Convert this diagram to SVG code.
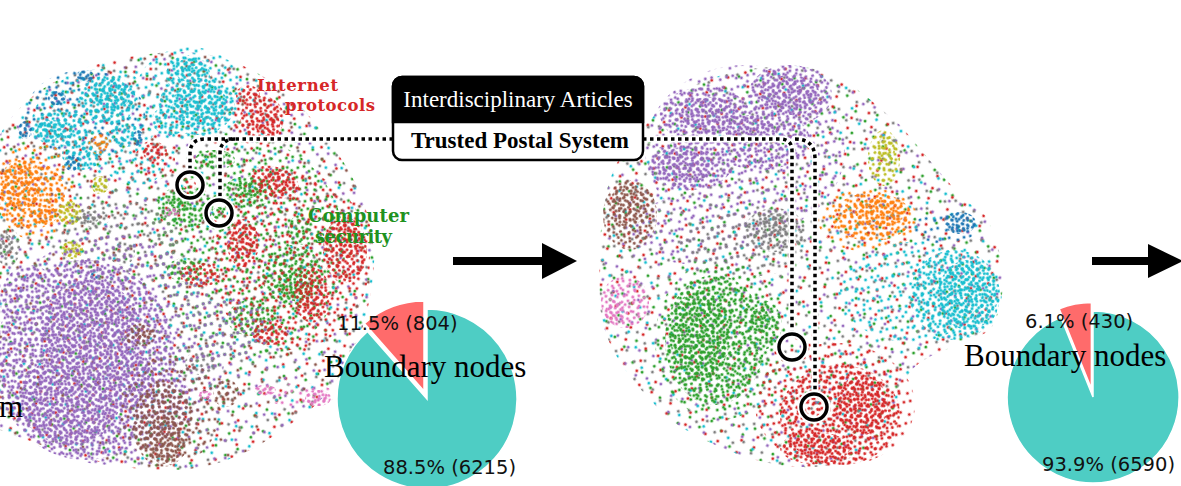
<svg xmlns="http://www.w3.org/2000/svg" width="1181" height="486" viewBox="0 0 1181 486">
<style>
.cy{fill:#17becf}.bl{fill:#1f77b4}.or{fill:#ff7f0e}.gr{fill:#2ca02c}.rd{fill:#d62728}.pu{fill:#9467bd}.br{fill:#8c564b}.pk{fill:#e377c2}.gy{fill:#7f7f7f}.ol{fill:#bcbd22}
.B{mask:url(#mB)}.B2{mask:url(#mB2)}.C{mask:url(#mC)}.C2{mask:url(#mC2)}
.D1{mask:url(#mD1)}.D2{mask:url(#mD2)}.D3{mask:url(#mD3)}.D4{mask:url(#mD4)}.D5{mask:url(#mD5)}.D6{mask:url(#mD6)}
.halo{fill:none;stroke:#fff;stroke-width:7;stroke-linecap:round}
.dot{fill:none;stroke:#000;stroke-width:3.5;stroke-dasharray:3.5 3.5}
.ring{fill:none;stroke:#000;stroke-width:3.5}
.ringhalo{fill:none;stroke:#fff;stroke-width:7.5}
.serif{font-family:"Liberation Serif","Times New Roman",serif}
.sans{font-family:"DejaVu Sans","Liberation Sans",sans-serif;font-size:19.5px;fill:#111}
.bn{font-family:"Liberation Serif","Times New Roman",serif;font-size:31px;fill:#000}
.lab{font-family:"DejaVu Serif","Liberation Serif",serif;font-weight:bold}
.teal{fill:#4ecdc4;stroke:#fff;stroke-width:1.5}
.sal{fill:#ff6b6b;stroke:#fff;stroke-width:1.5}
</style>
<defs>
<pattern id="pB" width="11" height="11" patternUnits="userSpaceOnUse" patternTransform="rotate(20)"><g fill="#fff"><circle cx="1.5" cy="2" r="1.5"/><circle cx="7" cy="1.5" r="1.5"/><circle cx="4.5" cy="6" r="1.5"/><circle cx="9.5" cy="7.5" r="1.5"/><circle cx="2" cy="9.5" r="1.5"/></g></pattern>
<pattern id="pB2" width="12" height="12" patternUnits="userSpaceOnUse" patternTransform="rotate(-25)"><g fill="#fff"><circle cx="2" cy="2" r="1.5"/><circle cx="8.5" cy="4" r="1.5"/><circle cx="4" cy="8.5" r="1.5"/><circle cx="10" cy="10" r="1.5"/></g></pattern>
<pattern id="pC" width="15" height="15" patternUnits="userSpaceOnUse" patternTransform="rotate(40)"><g fill="#fff"><circle cx="3" cy="3" r="1.5"/><circle cx="10" cy="7" r="1.5"/><circle cx="6" cy="12" r="1.5"/></g></pattern>
<pattern id="pC2" width="17" height="17" patternUnits="userSpaceOnUse" patternTransform="rotate(-15)"><g fill="#fff"><circle cx="2" cy="5" r="1.5"/><circle cx="11" cy="2" r="1.5"/><circle cx="8" cy="12" r="1.5"/><circle cx="15" cy="14" r="1.5"/></g></pattern>
<pattern id="pD1" width="22" height="22" patternUnits="userSpaceOnUse" patternTransform="rotate(10)"><g fill="#fff"><circle cx="4" cy="5" r="1.5"/><circle cx="15" cy="13" r="1.5"/></g></pattern>
<pattern id="pD2" width="26" height="26" patternUnits="userSpaceOnUse" patternTransform="rotate(55)"><g fill="#fff"><circle cx="6" cy="9" r="1.5"/><circle cx="19" cy="3" r="1.5"/><circle cx="13" cy="20" r="1.5"/></g></pattern>
<pattern id="pD3" width="24" height="24" patternUnits="userSpaceOnUse" patternTransform="rotate(-33)"><g fill="#fff"><circle cx="3" cy="15" r="1.5"/><circle cx="14" cy="6" r="1.5"/></g></pattern>
<pattern id="pD4" width="29" height="29" patternUnits="userSpaceOnUse" patternTransform="rotate(75)"><g fill="#fff"><circle cx="5" cy="5" r="1.5"/><circle cx="20" cy="12" r="1.5"/><circle cx="11" cy="24" r="1.5"/></g></pattern>
<pattern id="pD5" width="21" height="21" patternUnits="userSpaceOnUse" patternTransform="rotate(-60)"><g fill="#fff"><circle cx="10" cy="4" r="1.5"/><circle cx="4" cy="16" r="1.5"/></g></pattern>
<pattern id="pD6" width="27" height="27" patternUnits="userSpaceOnUse" patternTransform="rotate(25)"><g fill="#fff"><circle cx="8" cy="8" r="1.5"/><circle cx="21" cy="19" r="1.5"/></g></pattern>
<mask id="mB" maskUnits="userSpaceOnUse" x="0" y="0" width="1181" height="486"><rect width="1181" height="486" fill="url(#pB)"/></mask>
<mask id="mB2" maskUnits="userSpaceOnUse" x="0" y="0" width="1181" height="486"><rect width="1181" height="486" fill="url(#pB2)"/></mask>
<mask id="mC" maskUnits="userSpaceOnUse" x="0" y="0" width="1181" height="486"><rect width="1181" height="486" fill="url(#pC)"/></mask>
<mask id="mC2" maskUnits="userSpaceOnUse" x="0" y="0" width="1181" height="486"><rect width="1181" height="486" fill="url(#pC2)"/></mask>
<mask id="mD1" maskUnits="userSpaceOnUse" x="0" y="0" width="1181" height="486"><rect width="1181" height="486" fill="url(#pD1)"/></mask>
<mask id="mD2" maskUnits="userSpaceOnUse" x="0" y="0" width="1181" height="486"><rect width="1181" height="486" fill="url(#pD2)"/></mask>
<mask id="mD3" maskUnits="userSpaceOnUse" x="0" y="0" width="1181" height="486"><rect width="1181" height="486" fill="url(#pD3)"/></mask>
<mask id="mD4" maskUnits="userSpaceOnUse" x="0" y="0" width="1181" height="486"><rect width="1181" height="486" fill="url(#pD4)"/></mask>
<mask id="mD5" maskUnits="userSpaceOnUse" x="0" y="0" width="1181" height="486"><rect width="1181" height="486" fill="url(#pD5)"/></mask>
<mask id="mD6" maskUnits="userSpaceOnUse" x="0" y="0" width="1181" height="486"><rect width="1181" height="486" fill="url(#pD6)"/></mask>
<path id="o1" d="M0,135 C30,80 100,55 175,52 C245,50 300,95 335,150 C365,190 380,240 372,285 C365,335 345,380 310,410 C270,440 230,470 170,470 C110,472 40,445 0,430 Z"/>
<path id="o2" d="M660,110 C690,75 760,62 810,68 C850,75 880,110 900,125 C930,160 960,200 985,215 C1005,250 1010,300 990,330 C960,350 920,350 905,380 C900,430 860,470 800,467 C750,465 700,440 670,420 C640,390 600,350 600,300 C598,260 600,210 610,180 C620,150 640,130 660,110 Z"/>

<!-- plot 1 cluster shapes: 1 = sparse halo, 2 = medium, 3 = core -->
<g id="a-cy-1"><ellipse cx="190" cy="95" rx="55" ry="48"/><ellipse cx="95" cy="120" rx="65" ry="50" transform="rotate(-15 95 120)"/><ellipse cx="135" cy="165" rx="30" ry="20"/></g>
<g id="a-cy-2"><ellipse cx="188" cy="75" rx="22" ry="20"/><ellipse cx="197" cy="105" rx="38" ry="30"/><ellipse cx="170" cy="120" rx="18" ry="15"/><ellipse cx="108" cy="100" rx="28" ry="25"/><ellipse cx="60" cy="128" rx="28" ry="18"/><ellipse cx="82" cy="155" rx="20" ry="15"/><ellipse cx="125" cy="135" rx="15" ry="12"/></g>
<g id="a-cy-3"><ellipse cx="190" cy="70" rx="15" ry="12"/><ellipse cx="200" cy="105" rx="28" ry="22"/><ellipse cx="112" cy="95" rx="18" ry="16"/><ellipse cx="52" cy="130" rx="15" ry="10"/></g>
<g id="a-bl-1"><ellipse cx="85" cy="115" rx="60" ry="45"/></g>
<g id="a-bl-3"><ellipse cx="85" cy="76" rx="9" ry="6"/><ellipse cx="57" cy="98" rx="9" ry="7"/><ellipse cx="25" cy="130" rx="7" ry="9"/><ellipse cx="72" cy="163" rx="8" ry="8"/><ellipse cx="138" cy="138" rx="5" ry="8"/><ellipse cx="95" cy="276" rx="5" ry="4"/></g>
<g id="a-or-1"><ellipse cx="35" cy="190" rx="40" ry="50"/><ellipse cx="100" cy="145" rx="12" ry="10"/></g>
<g id="a-or-2"><ellipse cx="30" cy="195" rx="35" ry="35"/><ellipse cx="100" cy="143" rx="9" ry="9"/></g>
<g id="a-or-3"><ellipse cx="20" cy="185" rx="20" ry="25"/><ellipse cx="45" cy="215" rx="12" ry="10"/></g>
<g id="a-ol-3"><ellipse cx="70" cy="213" rx="12" ry="12"/><ellipse cx="72" cy="250" rx="11" ry="9"/><ellipse cx="100" cy="185" rx="9" ry="9"/></g>
<g id="a-gy-1"><ellipse cx="120" cy="240" rx="60" ry="40"/><ellipse cx="200" cy="360" rx="25" ry="20"/></g>
<g id="a-gy-2"><ellipse cx="8" cy="247" rx="12" ry="20"/><ellipse cx="92" cy="218" rx="18" ry="9"/><ellipse cx="122" cy="253" rx="13" ry="12"/><ellipse cx="200" cy="363" rx="15" ry="12"/></g>
<g id="a-gy-3"><ellipse cx="5" cy="245" rx="8" ry="12"/><ellipse cx="90" cy="217" rx="10" ry="6"/></g>
<g id="a-rd-1"><ellipse cx="290" cy="260" rx="80" ry="90"/><ellipse cx="258" cy="118" rx="28" ry="28"/><ellipse cx="155" cy="160" rx="20" ry="20"/></g>
<g id="a-rd-2"><ellipse cx="262" cy="118" rx="22" ry="22"/><ellipse cx="248" cy="95" rx="12" ry="10"/><ellipse cx="275" cy="182" rx="25" ry="15" transform="rotate(20 275 182)"/><ellipse cx="155" cy="152" rx="12" ry="10"/><ellipse cx="243" cy="243" rx="16" ry="24"/><ellipse cx="345" cy="250" rx="22" ry="33"/><ellipse cx="312" cy="295" rx="18" ry="28"/><ellipse cx="200" cy="275" rx="20" ry="12"/><ellipse cx="270" cy="333" rx="18" ry="12"/></g>
<g id="a-rd-3"><ellipse cx="268" cy="125" rx="12" ry="14"/><ellipse cx="280" cy="180" rx="16" ry="10" transform="rotate(20 280 180)"/><ellipse cx="244" cy="240" rx="8" ry="14"/><ellipse cx="348" cy="240" rx="12" ry="18"/><ellipse cx="310" cy="300" rx="8" ry="14"/><ellipse cx="190" cy="185" rx="6" ry="6"/></g>
<g id="a-gr-1"><ellipse cx="250" cy="250" rx="95" ry="110"/><ellipse cx="190" cy="215" rx="40" ry="30"/></g>
<g id="a-gr-2"><ellipse cx="248" cy="192" rx="25" ry="16"/><ellipse cx="185" cy="208" rx="28" ry="20"/><ellipse cx="292" cy="275" rx="30" ry="30"/><ellipse cx="252" cy="318" rx="25" ry="18"/><ellipse cx="185" cy="270" rx="18" ry="12"/><ellipse cx="300" cy="230" rx="12" ry="15"/><ellipse cx="215" cy="160" rx="20" ry="10"/></g>
<g id="a-gr-3"><ellipse cx="295" cy="285" rx="16" ry="16"/><ellipse cx="250" cy="190" rx="12" ry="8"/><ellipse cx="180" cy="205" rx="10" ry="8"/><ellipse cx="218" cy="213" rx="6" ry="6"/></g>
<g id="a-pu-1"><ellipse cx="110" cy="350" rx="115" ry="115"/><ellipse cx="230" cy="330" rx="40" ry="30"/></g>
<g id="a-pu-2"><ellipse cx="85" cy="360" rx="90" ry="100"/><ellipse cx="30" cy="300" rx="30" ry="35"/><ellipse cx="150" cy="400" rx="40" ry="40"/></g>
<g id="a-pu-3"><ellipse cx="90" cy="330" rx="50" ry="50"/><ellipse cx="70" cy="400" rx="50" ry="45"/><ellipse cx="130" cy="380" rx="25" ry="30"/></g>
<g id="a-br-1"><ellipse cx="170" cy="410" rx="50" ry="55"/></g>
<g id="a-br-2"><ellipse cx="163" cy="425" rx="30" ry="42"/><ellipse cx="140" cy="335" rx="16" ry="11"/><ellipse cx="226" cy="393" rx="13" ry="14"/></g>
<g id="a-br-3"><ellipse cx="165" cy="440" rx="18" ry="24"/><ellipse cx="145" cy="335" rx="8" ry="6"/></g>
<g id="a-pk-1"><ellipse cx="300" cy="395" rx="35" ry="12"/></g>
<g id="a-pk-2"><ellipse cx="318" cy="398" rx="13" ry="8"/><ellipse cx="265" cy="390" rx="11" ry="5"/><ellipse cx="205" cy="395" rx="7" ry="4"/><ellipse cx="172" cy="212" rx="8" ry="4"/></g>

<!-- plot 2 cluster shapes -->
<g id="b-pu-1"><ellipse cx="745" cy="150" rx="100" ry="85"/><ellipse cx="700" cy="230" rx="70" ry="35"/></g>
<g id="b-pu-2"><ellipse cx="790" cy="95" rx="42" ry="30"/><ellipse cx="705" cy="115" rx="45" ry="28"/><ellipse cx="690" cy="165" rx="42" ry="25"/><ellipse cx="760" cy="140" rx="50" ry="30"/></g>
<g id="b-pu-3"><ellipse cx="790" cy="95" rx="30" ry="20"/><ellipse cx="710" cy="115" rx="30" ry="18"/><ellipse cx="685" cy="165" rx="28" ry="18"/><ellipse cx="750" cy="130" rx="25" ry="15"/></g>
<g id="b-br-2"><ellipse cx="630" cy="215" rx="27" ry="35"/></g>
<g id="b-br-3"><ellipse cx="628" cy="205" rx="18" ry="22"/></g>
<g id="b-gy-1"><ellipse cx="745" cy="245" rx="65" ry="32"/></g>
<g id="b-gy-2"><ellipse cx="775" cy="230" rx="30" ry="22"/></g>
<g id="b-gy-3"><ellipse cx="778" cy="225" rx="18" ry="12"/></g>
<g id="b-ol-2"><ellipse cx="884" cy="158" rx="16" ry="28"/></g>
<g id="b-ol-3"><ellipse cx="886" cy="150" rx="9" ry="14"/></g>
<g id="b-or-1"><ellipse cx="868" cy="220" rx="50" ry="32"/></g>
<g id="b-or-2"><ellipse cx="872" cy="217" rx="40" ry="24"/></g>
<g id="b-or-3"><ellipse cx="880" cy="212" rx="25" ry="15"/></g>
<g id="b-bl-1"><ellipse cx="945" cy="228" rx="32" ry="16"/></g>
<g id="b-bl-3"><ellipse cx="960" cy="223" rx="16" ry="11"/></g>
<g id="b-cy-1"><ellipse cx="910" cy="292" rx="70" ry="50"/></g>
<g id="b-cy-2"><ellipse cx="955" cy="295" rx="45" ry="45"/></g>
<g id="b-cy-3"><ellipse cx="968" cy="295" rx="30" ry="35"/></g>
<g id="b-pk-2"><ellipse cx="625" cy="302" rx="24" ry="26"/></g>
<g id="b-pk-3"><ellipse cx="615" cy="312" rx="10" ry="12"/></g>
<g id="b-gr-1"><ellipse cx="720" cy="340" rx="65" ry="80"/></g>
<g id="b-gr-2"><ellipse cx="715" cy="340" rx="50" ry="65"/><ellipse cx="762" cy="325" rx="20" ry="25"/></g>
<g id="b-gr-3"><ellipse cx="700" cy="335" rx="30" ry="45"/><ellipse cx="760" cy="320" rx="10" ry="12"/></g>
<g id="b-rd-1"><ellipse cx="835" cy="405" rx="80" ry="62"/></g>
<g id="b-rd-2"><ellipse cx="840" cy="415" rx="60" ry="50"/></g>
<g id="b-rd-3"><ellipse cx="815" cy="448" rx="35" ry="16"/><ellipse cx="862" cy="405" rx="26" ry="30"/></g>
</defs>
<rect width="1181" height="486" fill="#fff"/>

<g id="plot-left">
<use href="#o1" class="gr D1"/><use href="#o1" class="rd D2"/><use href="#o1" class="cy D3"/><use href="#o1" class="gy D4"/><use href="#o1" class="pu D5"/><use href="#o1" class="br D6"/>
<use href="#a-bl-1" class="bl C2"/>
<use href="#a-cy-1" class="cy C"/><use href="#a-cy-2" class="cy B2"/><use href="#a-cy-2" class="cy C2"/><use href="#a-cy-3" class="cy B"/>
<use href="#a-bl-3" class="bl B"/><use href="#a-bl-3" class="bl B2"/>
<use href="#a-gr-1" class="gr C"/><use href="#a-gr-2" class="gr B2"/><use href="#a-gr-2" class="gr C2"/><use href="#a-gr-3" class="gr B"/>
<use href="#a-rd-1" class="rd C2"/><use href="#a-rd-2" class="rd B"/><use href="#a-rd-2" class="rd D1"/><use href="#a-rd-3" class="rd B2"/>
<use href="#a-or-1" class="or C"/><use href="#a-or-2" class="or B2"/><use href="#a-or-2" class="or C2"/><use href="#a-or-3" class="or B"/>
<use href="#a-ol-3" class="ol B"/><use href="#a-ol-3" class="ol B2"/>
<use href="#a-gy-1" class="gy C"/><use href="#a-gy-2" class="gy B2"/><use href="#a-gy-3" class="gy B"/>
<use href="#a-pu-1" class="pu C"/><use href="#a-pu-2" class="pu B2"/><use href="#a-pu-2" class="pu C2"/><use href="#a-pu-3" class="pu B"/>
<use href="#a-br-1" class="br C"/><use href="#a-br-2" class="br B2"/><use href="#a-br-2" class="br C2"/><use href="#a-br-3" class="br B"/>
<use href="#a-pk-1" class="pk C"/><use href="#a-pk-2" class="pk B"/><use href="#a-pk-2" class="pk B2"/>
</g>

<g id="plot-right">
<use href="#o2" class="gr D1"/><use href="#o2" class="rd D2"/><use href="#o2" class="pu D4"/><use href="#o2" class="gy D5"/><use href="#o2" class="cy D6"/>
<use href="#b-pu-1" class="pu C"/><use href="#b-pu-2" class="pu B2"/><use href="#b-pu-2" class="pu C2"/><use href="#b-pu-3" class="pu B"/>
<use href="#b-br-2" class="br B2"/><use href="#b-br-2" class="br C2"/><use href="#b-br-3" class="br B"/>
<use href="#b-gy-1" class="gy C"/><use href="#b-gy-2" class="gy B2"/><use href="#b-gy-2" class="gy C2"/><use href="#b-gy-3" class="gy B"/>
<use href="#b-ol-2" class="ol B2"/><use href="#b-ol-2" class="ol C2"/><use href="#b-ol-3" class="ol B"/>
<use href="#b-or-1" class="or C"/><use href="#b-or-2" class="or B2"/><use href="#b-or-2" class="or C2"/><use href="#b-or-3" class="or B"/>
<use href="#b-bl-1" class="bl C"/><use href="#b-bl-3" class="bl B"/><use href="#b-bl-3" class="bl B2"/>
<use href="#b-cy-1" class="cy C"/><use href="#b-cy-2" class="cy B2"/><use href="#b-cy-2" class="cy C2"/><use href="#b-cy-3" class="cy B"/>
<use href="#b-pk-2" class="pk B2"/><use href="#b-pk-2" class="pk C2"/><use href="#b-pk-3" class="pk B"/>
<use href="#b-gr-1" class="gr C"/><use href="#b-gr-2" class="gr B2"/><use href="#b-gr-2" class="gr C2"/><use href="#b-gr-3" class="gr B"/>
<use href="#b-rd-1" class="rd C"/><use href="#b-rd-2" class="rd B2"/><use href="#b-rd-2" class="rd C2"/><use href="#b-rd-3" class="rd B"/>
</g>

<g id="connectors">
<path class="halo" d="M393,139 H205 Q190,139 190,154 V172"/>
<path class="halo" d="M235,139 Q220,139 220,154 V200"/>
<path class="halo" d="M643,139 H780 Q792,139 792,151 V334"/>
<path class="halo" d="M795,139 Q815,139 815,159 V394"/>
<path class="dot" d="M393,139 H205 Q190,139 190,154 V172"/>
<path class="dot" d="M235,139 Q220,139 220,154 V200"/>
<path class="dot" d="M643,139 H780 Q792,139 792,151 V334"/>
<path class="dot" d="M795,139 Q815,139 815,159 V394"/>
</g>

<g id="highlight-left-red"><circle class="ringhalo" cx="190" cy="185" r="13"/><circle class="ring" cx="190" cy="185" r="13"/></g>
<g id="highlight-left-green"><circle class="ringhalo" cx="219" cy="213" r="13"/><circle class="ring" cx="219" cy="213" r="13"/></g>
<g id="highlight-right-green"><circle class="ringhalo" cx="792" cy="347" r="13"/><circle class="ring" cx="792" cy="347" r="13"/></g>
<g id="highlight-right-red"><circle class="ringhalo" cx="814" cy="407" r="13"/><circle class="ring" cx="814" cy="407" r="13"/></g>

<g id="label-box">
<rect x="393" y="77" width="250" height="83" rx="9" fill="#fff" stroke="#000" stroke-width="2.5"/>
<path d="M393,122 V86 A9,9 0 0 1 402,77 H634 A9,9 0 0 1 643,86 V122 Z" fill="#000" stroke="#000" stroke-width="2.5"/>
<text class="serif" x="518" y="107" font-size="23" fill="#fff" text-anchor="middle">Interdisciplinary Articles</text>
<text class="serif" x="520" y="148" font-size="23" font-weight="bold" fill="#000" text-anchor="middle">Trusted Postal System</text>
</g>

<g id="label-internet">
<text class="lab" x="257" y="91" font-size="16.5" fill="#d62728" textLength="81">Internet</text>
<text class="lab" x="285" y="110.5" font-size="16.5" fill="#d62728" textLength="90">protocols</text>
</g>
<g id="label-security">
<text class="lab" x="308" y="222" font-size="18" fill="#1f921f" textLength="101">Computer</text>
<text class="lab" x="315" y="243" font-size="18" fill="#1f921f" textLength="77">security</text>
</g>
<g id="label-left-cut"><text class="bn" x="-1" y="417">m</text></g>

<g id="arrow-1"><rect x="453" y="257" width="90" height="8" fill="#000"/><polygon points="542,243 577,261 542,279" fill="#000"/></g>
<g id="arrow-2"><rect x="1092" y="257" width="58" height="8" fill="#000"/><polygon points="1148,244 1183,261 1148,278" fill="#000"/></g>

<g id="pie-1">
<path class="teal" d="M427,309 A90,90 0 1 1 367.5,331.5 L427,399 Z"/>
<path class="sal" d="M424,391 L424,301 A90,90 0 0 0 364.5,323.5 Z"/>
<text class="sans" x="337" y="330">11.5% (804)</text>
<text class="bn" x="324" y="377">Boundary nodes</text>
<text class="sans" x="383" y="474">88.5% (6215)</text>
</g>
<g id="pie-2">
<path class="teal" d="M1093,311 A86,86 0 1 1 1060.8,317.3 L1093,397 Z"/>
<path class="sal" d="M1091.4,388.6 L1091.4,302.6 A86,86 0 0 0 1059.2,308.9 Z"/>
<text class="sans" x="1025" y="328">6.1% (430)</text>
<text class="bn" x="964" y="366">Boundary nodes</text>
<text class="sans" x="1042" y="471">93.9% (6590)</text>
</g>
</svg>
